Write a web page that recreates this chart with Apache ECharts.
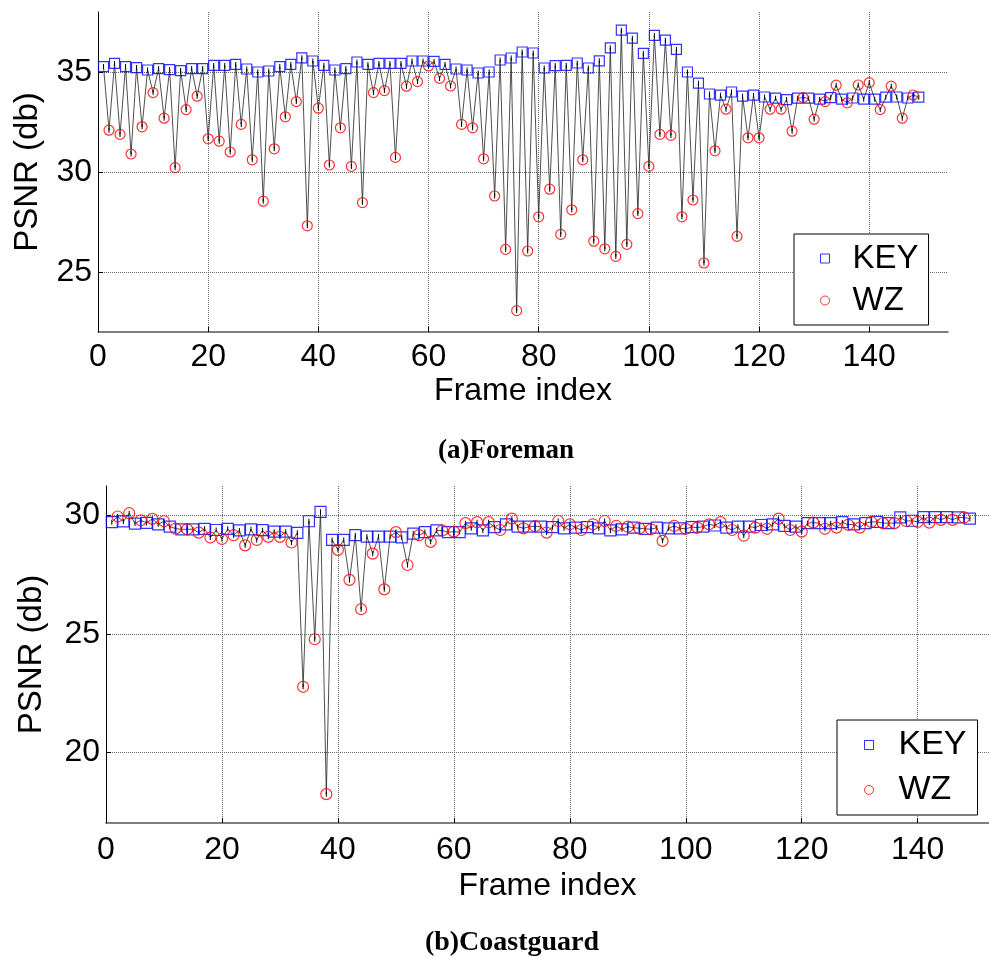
<!DOCTYPE html>
<html><head><meta charset="utf-8">
<script src="https://cdn.jsdelivr.net/npm/echarts@6/dist/echarts.min.js"></script>
<style>html,body{margin:0;padding:0;background:#fff}#c{width:989px;height:958px}</style>
</head><body><div id="c"></div>
<script>
// Foreman: KEY frames are odd (1,3,...,149), WZ frames are even (2,4,...,148)
const foremanKey = [35.27,35.43,35.27,35.22,35.10,35.17,35.12,35.07,35.17,35.17,
  35.33,35.33,35.38,35.15,35.00,35.05,35.27,35.38,35.71,35.55,
  35.33,35.10,35.17,35.50,35.38,35.43,35.43,35.43,35.55,35.55,
  35.53,35.38,35.15,35.10,34.95,35.00,35.60,35.70,36.00,35.95,
  35.20,35.32,35.33,35.45,35.20,35.56,36.21,37.09,36.69,35.93,
  36.83,36.59,36.13,35.00,34.44,33.90,33.84,34.00,33.79,33.84,
  33.75,33.69,33.62,33.69,33.69,33.64,33.72,33.64,33.70,33.64,
  33.64,33.74,33.75,33.70,33.74];
const foremanWz = [32.09,31.88,30.90,32.26,33.97,32.69,30.22,33.12,33.79,31.66,
  31.54,31.00,32.38,30.61,28.54,31.16,32.76,33.52,27.31,33.19,
  30.35,32.21,30.28,28.47,33.97,34.07,30.73,34.29,34.52,35.30,
  34.68,34.30,32.38,32.21,30.66,28.80,26.13,23.07,26.05,27.76,
  29.14,26.88,28.11,30.61,26.54,26.16,25.78,26.38,27.92,30.28,
  31.88,31.83,27.76,28.60,25.45,31.06,33.14,26.78,31.71,31.71,
  33.14,33.14,32.04,33.72,32.64,33.52,34.34,33.46,34.35,34.47,
  33.12,34.29,32.69,33.85];
// Coastguard
const coastKey = [29.72,29.75,29.66,29.69,29.63,29.53,29.42,29.42,29.44,29.39,
  29.44,29.37,29.42,29.38,29.32,29.32,29.27,29.76,30.16,28.97,
  28.97,29.17,29.11,29.11,29.11,29.08,29.24,29.30,29.37,29.30,
  29.30,29.46,29.37,29.51,29.63,29.53,29.53,29.53,29.51,29.46,
  29.49,29.51,29.46,29.37,29.42,29.49,29.44,29.49,29.46,29.46,
  29.51,29.53,29.58,29.49,29.53,29.53,29.60,29.63,29.56,29.53,
  29.68,29.68,29.68,29.72,29.63,29.68,29.73,29.68,29.92,29.78,
  29.93,29.93,29.93,29.92,29.87];
const coastWz = [29.96,30.10,29.80,29.86,29.76,29.45,29.42,29.28,29.07,29.01,
  29.17,28.74,28.97,29.10,29.10,28.86,22.76,24.77,18.22,28.55,
  27.28,26.04,28.39,26.88,29.30,27.91,29.17,28.89,29.37,29.32,
  29.68,29.72,29.72,29.39,29.87,29.46,29.55,29.28,29.77,29.63,
  29.39,29.63,29.77,29.56,29.53,29.46,29.42,28.93,29.56,29.44,
  29.49,29.63,29.72,29.39,29.15,29.49,29.44,29.87,29.39,29.32,
  29.70,29.44,29.49,29.61,29.49,29.73,29.68,29.68,29.77,29.73,
  29.70,29.82,29.82,29.92];
const xTicks = [0,20,40,60,80,100,120,140];
const foremanYTicks = [25,30,35];
const coastYTicks = [20,25,30];
const captions = ['(a)Foreman','(b)Coastguard'];

function keyPts(v){ return v.map((y,i)=>[2*i+1,y]); }
function wzPts(v){ return v.map((y,i)=>[2*i+2,y]); }
function allPts(k,w){ const o=[]; for(let i=0;i<k.length;i++){ o.push([2*i+1,k[i]]); if(i<w.length) o.push([2*i+2,w[i]]); } return o; }

const FONT = 'Liberation Sans, Arial, sans-serif';
function xAxisCfg(idx, max, labelMargin, nameGap){
  return {type:'value', gridIndex:idx, min:0, max:max, name:'Frame index', nameLocation:'middle', nameGap:nameGap,
    nameTextStyle:{fontFamily:FONT, fontSize:32, color:'#000'},
    axisLine:{show:true, onZero:false, lineStyle:{color:'#555', width:1.5}},
    axisTick:{show:true, inside:true, length:5, customValues:xTicks, lineStyle:{color:'#000'}},
    axisLabel:{customValues:xTicks, margin:labelMargin, fontFamily:FONT, fontSize:32, color:'#000'},
    splitLine:{show:true, lineStyle:{type:'dotted', color:'#666', width:1}}};
}
function yAxisCfg(idx, min, max, ticks, nameGap){
  return {type:'value', gridIndex:idx, min:min, max:max, name:'PSNR (db)', nameLocation:'middle', nameGap:nameGap,
    nameTextStyle:{fontFamily:FONT, fontSize:33, color:'#000'},
    axisLine:{show:true, onZero:false, lineStyle:{color:'#000', width:1}},
    axisTick:{show:true, inside:true, length:5, customValues:ticks, lineStyle:{color:'#000'}},
    axisLabel:{customValues:ticks, margin:6, fontFamily:FONT, fontSize:32, color:'#000'},
    splitLine:{show:true, lineStyle:{type:'dotted', color:'#666', width:1}}};
}
function seriesFor(idx, k, w, size){
  return [
    {type:'line', name:'trace'+idx, xAxisIndex:idx, yAxisIndex:idx, data:allPts(k,w), z:2,
      lineStyle:{color:'#222', width:0.8}, symbol:'rect', symbolSize:[1,5], itemStyle:{color:'#000'},
      showSymbol:true, animation:false, silent:true},
    {type:'scatter', name:'KEY', xAxisIndex:idx, yAxisIndex:idx, data:keyPts(k), z:3, symbol:'rect', symbolSize:size,
      itemStyle:{color:'rgba(255,255,255,0)', borderColor:'#0000ff', borderWidth:1.2}, animation:false},
    {type:'scatter', name:'WZ', xAxisIndex:idx, yAxisIndex:idx, data:wzPts(w), z:3, symbol:'circle', symbolSize:size,
      itemStyle:{color:'rgba(255,255,255,0)', borderColor:'#ff0000', borderWidth:1.2}, animation:false}
  ];
}
function legendCfg(left, top, pad, textPadLeft, gap, fs){
  return {show:true, orient:'vertical', left:left, top:top, padding:pad, itemWidth:9, itemHeight:9, itemGap:gap,
    backgroundColor:'#fff', borderColor:'#000', borderWidth:1, borderRadius:0, selectedMode:false,
    textStyle:{fontFamily:FONT, fontSize:fs, color:'#000', padding:[0,0,0,textPadLeft]},
    data:[{name:'KEY', icon:'rect', itemStyle:{color:'rgba(255,255,255,0)', borderColor:'#0000ff', borderWidth:1}},
          {name:'WZ', icon:'circle', itemStyle:{color:'rgba(255,255,255,0)', borderColor:'#ff0000', borderWidth:1}}]};
}

const chart = echarts.init(document.getElementById('c'), null, {renderer:'canvas'});
chart.setOption({
  backgroundColor:'#fff',
  animation:false,
  grid:[{left:98, top:12, width:850, height:320},
        {left:106, top:486, width:883, height:337}],
  xAxis:[xAxisCfg(0, 154.3, 9, 43), xAxisCfg(1, 152.3, 11, 47)],
  yAxis:[yAxisCfg(0, 22, 38, foremanYTicks, 54), yAxisCfg(1, 17, 31.25, coastYTicks, 58)],
  legend:[legendCfg(794, 234, [8,10,8,26], 18, 9, 33), legendCfg(837, 720, [8,11,8,27], 20, 11, 34)],
  series:[...seriesFor(0, foremanKey, foremanWz, 10), ...seriesFor(1, coastKey, coastWz, 11)],
  graphic:[
    {type:'text', x:506, y:438, style:{text:captions[0], align:'center', verticalAlign:'top', font:'bold 27px "Liberation Serif", "Times New Roman", serif', fill:'#000'}},
    {type:'text', x:512, y:929, style:{text:captions[1], align:'center', verticalAlign:'top', font:'bold 28px "Liberation Serif", "Times New Roman", serif', fill:'#000'}}
  ]
});
</script></body></html>
